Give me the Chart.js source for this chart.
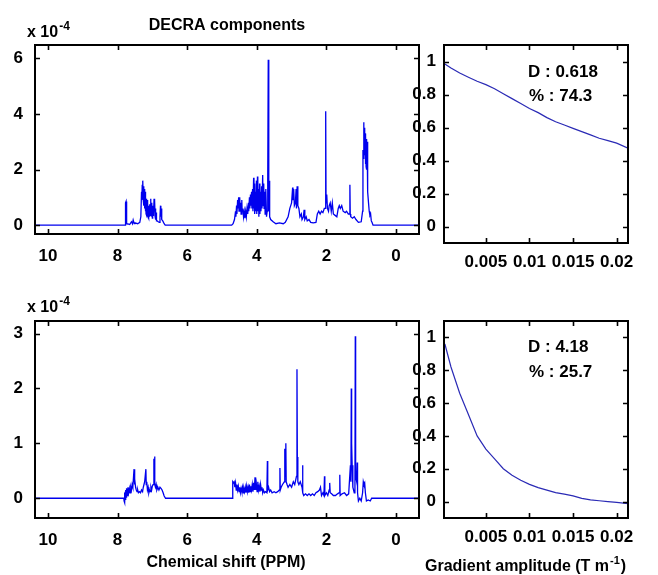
<!DOCTYPE html>
<html><head><meta charset="utf-8">
<script src="https://cdn.jsdelivr.net/npm/chart.js@4/dist/chart.umd.min.js"></script>
<style>
html,body{margin:0;padding:0;background:#fff;}
#wrap{position:relative;width:658px;height:575px;overflow:hidden;background:#fff;}
canvas{position:absolute;left:0;top:0;pointer-events:none;}
</style></head><body><div id="wrap">
<canvas id="c1" width="658" height="575"></canvas>
<canvas id="c2" width="658" height="575"></canvas>
<canvas id="c3" width="658" height="575"></canvas>
<canvas id="c4" width="658" height="575"></canvas>
</div>
<script>
// ---------- DATA ----------
const shiftTicks = [10, 8, 6, 4, 2, 0];
const gradTicks = [0.005, 0.01, 0.015, 0.02];
const topIntensityTicks = [0, 2, 4, 6];
const bottomIntensityTicks = [0, 1, 2, 3];
const decayTicks = [0, 0.2, 0.4, 0.6, 0.8, 1];

// component 1 spectrum: [chemical shift (ppm), intensity (x 10^-4)]
const topSpectrum = [[10.37,0],[7.79,0],[7.78,0],[7.77,0.8],[7.755,0.85],[7.745,0.1],[7.74,0.75],[7.73,0.05],[7.70,0.04],[7.65,0.02],[7.60,0.12],[7.57,0.05],[7.55,0.18],[7.52,0.05],[7.50,0.08],[7.42,0.05],[7.36,0.1],[7.33,0.3],
[7.31,1.2],[7.30,0.9],[7.29,1.45],[7.28,1.0],[7.27,1.6],[7.26,0.9],[7.25,1.4],[7.24,0.7],[7.23,1.3],[7.22,0.6],[7.21,1.2],[7.20,0.5],[7.19,1.0],[7.18,0.4],[7.17,0.95],[7.16,0.35],[7.15,0.9],[7.14,0.3],[7.13,0.8],[7.12,0.3],[7.11,0.7],[7.10,0.25],[7.09,0.65],[7.08,0.3],[7.07,0.75],[7.06,0.35],[7.05,0.95],[7.04,0.4],[7.03,0.8],[7.02,0.3],[7.01,0.6],[7.00,0.25],[6.99,0.7],[6.98,0.35],[6.97,0.6],[6.96,0.4],[6.95,0.95],[6.94,0.5],[6.93,0.9],[6.92,0.3],[6.91,0.6],[6.90,0.2],[6.89,0.45],[6.88,0.15],[6.86,0.15],[6.83,0.12],[6.80,0.1],[6.78,0.3],[6.765,0.7],[6.755,0.3],[6.745,0.6],[6.73,0.2],[6.70,0.15],[6.66,0.05],[6.63,0],
[4.72,0],[4.68,0.05],[4.64,0.2],[4.61,0.5],[4.60,0.3],[4.58,0.7],[4.57,0.4],[4.55,0.9],[4.54,0.6],[4.52,1.0],[4.51,0.5],[4.49,1.0],[4.48,0.6],[4.46,0.8],[4.45,0.4],[4.43,0.9],[4.42,0.5],[4.40,0.6],[4.38,0.3],[4.36,0.5],[4.34,0.25],[4.32,0.5],[4.30,0.3],[4.28,0.6],[4.26,0.4],[4.24,0.8],[4.23,0.5],[4.21,1.0],[4.20,0.6],[4.18,1.1],[4.17,0.7],[4.15,1.2],[4.14,0.6],[4.12,1.3],[4.11,0.5],[4.09,1.7],[4.08,0.6],[4.07,1.5],[4.06,0.4],[4.04,1.2],[4.03,0.5],[4.01,1.6],[4.00,0.4],[3.98,1.75],[3.97,0.5],[3.95,1.3],[3.94,0.3],[3.92,1.5],[3.91,0.4],[3.89,1.2],[3.88,0.5],[3.86,1.4],[3.85,0.6],[3.83,1.8],[3.82,0.7],[3.80,1.5],[3.79,0.6],[3.77,1.2],[3.76,0.4],[3.74,1.3],[3.72,0.3],[3.70,0.5],[3.685,1.6],[3.67,5.95],[3.655,0.5],[3.645,1.6],[3.63,0.3],[3.60,0.2],[3.53,0.12],[3.45,0.05],[3.35,0.08],[3.24,0.05],[3.18,0.1],[3.10,0.3],[3.05,0.6],[3.00,0.8],[2.97,1.35],[2.96,0.9],[2.94,1.3],[2.92,0.7],[2.89,0.8],[2.87,1.3],[2.86,0.6],[2.84,1.4],[2.82,0.7],[2.79,0.6],[2.76,0.3],[2.72,0.4],[2.70,0.2],[2.66,0.3],[2.64,0.55],[2.62,0.2],[2.58,0.3],[2.55,0.15],[2.50,0.2],[2.45,0.1],[2.38,0.08],[2.30,0.1],[2.26,0.4],[2.22,0.5],[2.18,0.4],[2.14,0.5],[2.10,0.45],[2.06,0.6],[2.03,0.6],[2.02,4.1],[2.01,0.8],[1.99,1.1],[1.97,0.6],[1.94,0.5],[1.92,0.7],[1.89,0.8],[1.86,0.5],[1.83,0.8],[1.80,0.4],[1.75,0.35],[1.70,0.3],[1.66,0.6],[1.63,0.7],[1.60,0.6],[1.56,0.7],[1.52,0.5],[1.46,0.45],[1.42,0.5],[1.37,0.4],[1.33,0.4],[1.325,1.45],[1.315,0.4],[1.30,0.3],[1.25,0.25],[1.20,0.3],[1.15,0.2],[1.08,0.1],[1.00,0.12],[0.96,0.5],[0.95,2.7],[0.94,2.4],[0.93,3.7],[0.92,2.6],[0.91,3.5],[0.90,2.5],[0.89,3.3],[0.88,2.2],[0.87,3.2],[0.86,2.1],[0.85,3.1],[0.84,2.0],[0.83,3.0],[0.82,1.6],[0.81,1.2],[0.79,0.8],[0.77,0.5],[0.75,0.35],[0.73,0.4],[0.71,0.15],[0.69,0.1],[0.66,0],[-0.66,0]];

// component 2 spectrum: [chemical shift (ppm), intensity (x 10^-4)]
const bottomSpectrum = [[10.37,0],[7.82,0],[7.81,-0.05],[7.80,0.1],[7.79,-0.08],[7.78,0.12],[7.77,-0.03],[7.76,0.15],[7.75,0.02],[7.74,0.18],[7.72,0.05],[7.70,0.2],[7.68,0.1],[7.66,0.18],[7.64,0.1],[7.62,0.2],[7.60,0.15],[7.58,0.25],[7.56,0.2],[7.525,0.53],[7.515,0.25],[7.50,0.35],[7.48,0.2],[7.46,0.15],[7.44,0.12],[7.42,0.15],[7.40,0.1],[7.37,0.12],[7.34,0.1],[7.31,0.15],[7.28,0.12],[7.26,0.2],[7.22,0.3],[7.185,0.53],[7.175,0.25],[7.16,0.3],[7.14,0.15],[7.12,0.2],[7.10,0.1],[7.08,0.15],[7.06,0.12],[7.04,0.2],[7.02,0.15],[7.00,0.22],[6.98,0.25],[6.955,0.72],[6.945,0.4],[6.935,0.76],[6.925,0.25],[6.91,0.2],[6.89,0.25],[6.87,0.15],[6.84,0.2],[6.81,0.15],[6.78,0.2],[6.75,0.18],[6.72,0.15],[6.69,0.1],[6.66,0.04],[6.62,0],
[4.70,0],[4.69,0.3],[4.67,0.28],[4.65,0.3],[4.63,0.2],[4.61,0.28],[4.59,0.15],[4.57,0.25],[4.55,0.15],[4.53,0.22],[4.51,0.12],[4.49,0.2],[4.47,0.1],[4.45,0.18],[4.43,0.12],[4.41,0.2],[4.39,0.1],[4.37,0.18],[4.35,0.12],[4.33,0.2],[4.31,0.1],[4.29,0.22],[4.27,0.12],[4.25,0.2],[4.23,0.1],[4.21,0.25],[4.19,0.12],[4.17,0.22],[4.15,0.15],[4.13,0.25],[4.11,0.12],[4.09,0.28],[4.07,0.15],[4.05,0.38],[4.03,0.15],[4.01,0.25],[3.99,0.12],[3.97,0.3],[3.95,0.15],[3.93,0.22],[3.91,0.12],[3.89,0.25],[3.87,0.15],[3.85,0.2],[3.83,0.1],[3.81,0.15],[3.78,0.1],[3.75,0.12],[3.71,0.1],[3.695,0.68],[3.685,0.15],[3.66,0.2],[3.63,0.12],[3.60,0.15],[3.56,0.1],[3.50,0.12],[3.45,0.1],[3.40,0.12],[3.35,0.15],[3.335,0.55],[3.325,0.15],[3.30,0.2],[3.26,0.25],[3.21,0.3],[3.195,0.9],[3.185,0.4],[3.165,1.0],[3.155,0.3],[3.13,0.25],[3.10,0.2],[3.05,0.25],[3.00,0.2],[2.95,0.3],[2.91,0.25],[2.86,0.4],[2.845,2.35],[2.835,0.75],[2.82,0.3],[2.79,0.25],[2.75,0.3],[2.70,0.2],[2.685,0.6],[2.675,0.1],[2.65,0.05],[2.60,0.08],[2.55,0.05],[2.50,0.08],[2.45,0.05],[2.40,0.08],[2.35,0.05],[2.30,0.1],[2.25,0.12],[2.20,0.15],[2.17,0.2],[2.14,0.05],[2.10,0.1],[2.07,0.05],[2.055,0.4],[2.045,0.05],[2.00,0.1],[1.96,0.05],[1.92,0.15],[1.905,0.28],[1.89,0.1],[1.85,0.08],[1.80,0.05],[1.74,0.05],[1.68,0.08],[1.63,0.1],[1.615,0.43],[1.605,0.05],[1.55,0.08],[1.48,0.1],[1.42,0.05],[1.36,0.08],[1.31,0.6],[1.295,0.3],[1.285,2.0],[1.275,1.0],[1.26,0.6],[1.24,0.2],[1.20,0.1],[1.18,0.15],[1.17,2.95],[1.16,0.4],[1.13,0.3],[1.115,0.65],[1.105,0.1],[1.08,-0.05],[1.04,0.0],[1.00,-0.05],[0.96,0.1],[0.94,0.3],[0.92,0.25],[0.90,0.28],[0.88,0.1],[0.85,-0.05],[0.80,-0.03],[0.74,-0.05],[0.70,0],[-0.66,0]];

// diffusion decays
const gradient = [0.0003,0.001,0.002,0.003,0.004,0.005,0.006,0.007,0.008,0.009,0.010,0.011,0.012,0.013,0.014,0.015,0.016,0.017,0.018,0.019,0.020,0.0213];
const topDecay = [0.985,0.96,0.93,0.905,0.88,0.86,0.835,0.805,0.775,0.745,0.715,0.69,0.66,0.635,0.615,0.595,0.575,0.555,0.535,0.52,0.505,0.475];
const bottomDecay = [0.96,0.82,0.66,0.53,0.40,0.32,0.26,0.20,0.16,0.13,0.105,0.085,0.07,0.055,0.045,0.035,0.02,0.01,0.005,0.0,-0.005,-0.012];

// ---------- DRAWING ----------
const FONT = '"Liberation Sans", Arial, Helvetica, sans-serif';
Chart.defaults.devicePixelRatio = 1;

function drawSup(ctx, x, y, base, sup, size, supSize) {
  ctx.save();
  ctx.fillStyle = '#000';
  ctx.textBaseline = 'alphabetic';
  ctx.textAlign = 'left';
  ctx.font = 'bold ' + size + 'px ' + FONT;
  const w1 = ctx.measureText(base[0]).width;
  ctx.fillText(base[0], x, y);
  ctx.font = 'bold ' + supSize + 'px ' + FONT;
  const w2 = ctx.measureText(sup).width;
  ctx.fillText(sup, x + w1 + 1, y - size * 0.45);
  if (base[1]) {
    ctx.font = 'bold ' + size + 'px ' + FONT;
    ctx.fillText(base[1], x + w1 + w2 + 2, y);
  }
  ctx.restore();
}

function txt(ctx, s, x, y, size, align) {
  ctx.save();
  ctx.fillStyle = '#000';
  ctx.font = 'bold ' + size + 'px ' + FONT;
  ctx.textAlign = align || 'left';
  ctx.textBaseline = 'alphabetic';
  ctx.fillText(s, x, y);
  ctx.restore();
}

function makeChart(id, pts, c) {
  const framePlugin = {
    id: 'frame' + id,
    afterDatasetsDraw(chart) {
      const ctx = chart.ctx, a = chart.chartArea;
      const sx = chart.scales.x, sy = chart.scales.y;
      ctx.save();
      ctx.strokeStyle = '#000';
      ctx.lineWidth = 1.6;
      sx.ticks.forEach(t => {
        const px = Math.round(sx.getPixelForValue(t.value)) + 0.5;
        ctx.beginPath();
        ctx.moveTo(px, a.bottom); ctx.lineTo(px, a.bottom - 5);
        ctx.moveTo(px, a.top); ctx.lineTo(px, a.top + 5);
        ctx.stroke();
      });
      sy.ticks.forEach(t => {
        const py = Math.round(sy.getPixelForValue(t.value)) + 0.5;
        ctx.beginPath();
        ctx.moveTo(a.left, py); ctx.lineTo(a.left + 5, py);
        ctx.moveTo(a.right, py); ctx.lineTo(a.right - 5, py);
        ctx.stroke();
      });
      ctx.lineWidth = 2;
      ctx.strokeRect(a.left, a.top, a.right - a.left, a.bottom - a.top);
      ctx.restore();
      if (c.extra) c.extra(chart.ctx, chart);
    }
  };
  return new Chart(document.getElementById(id), {
    type: 'line',
    data: {datasets: [{data: pts.map(p => ({x: p[0], y: p[1]})), borderColor: c.color, borderWidth: c.lw,
                       pointRadius: 0, tension: 0, fill: false, borderJoinStyle: 'miter'}]},
    options: {
      responsive: false, animation: false, events: [],
      layout: {padding: {left: c.area.l - c.yW, top: c.area.t, right: 658 - c.area.r, bottom: 575 - c.area.b - c.xH}},
      plugins: {legend: {display: false}, tooltip: {enabled: false}, title: {display: false}},
      scales: {
        x: {
          type: 'linear', min: c.xMin, max: c.xMax, reverse: !!c.reverse,
          grid: {display: false, drawTicks: false}, border: {display: false},
          afterBuildTicks: s => { s.ticks = c.xTicks.map(v => ({value: v})); },
          afterFit: s => { s.height = c.xH; s.paddingLeft = 0; s.paddingRight = 0; },
          ticks: {autoSkip: false, maxRotation: 0, minRotation: 0, padding: c.xPad, color: '#000',
                  font: {family: FONT, size: 17, weight: 'bold'}, callback: v => String(v)}
        },
        y: {
          type: 'linear', min: c.yMin, max: c.yMax,
          grid: {display: false, drawTicks: false}, border: {display: false},
          afterBuildTicks: s => { s.ticks = c.yTicks.map(v => ({value: v})); },
          afterFit: s => { s.width = c.yW; s.paddingTop = 0; s.paddingBottom = 0; },
          ticks: {autoSkip: false, padding: c.yPad, color: '#000',
                  font: {family: FONT, size: 17, weight: 'bold'}, callback: v => String(v)}
        }
      }
    },
    plugins: [framePlugin]
  });
}

makeChart('c1', topSpectrum, {
  area: {l: 35, t: 45, r: 419, b: 234}, yW: 35, xH: 30, xPad: 12, yPad: 12,
  xMin: -0.66, xMax: 10.37, reverse: true, yMin: -0.32, yMax: 6.48,
  xTicks: shiftTicks, yTicks: topIntensityTicks, color: '#0000ee', lw: 1.3,
  extra: (ctx) => {
    drawSup(ctx, 27, 37, ['x 10', ''], '-4', 16, 12);
    txt(ctx, 'DECRA components', 227, 30, 16, 'center');
  }
});
makeChart('c2', gradient.map((g, i) => [g, topDecay[i]]), {
  area: {l: 444, t: 45, r: 628, b: 243}, yW: 40, xH: 30, xPad: 9, yPad: 8,
  xMin: 0.0002, xMax: 0.0213, yMin: -0.1, yMax: 1.1,
  xTicks: gradTicks, yTicks: decayTicks, color: '#2a2ab5', lw: 1.2,
  extra: (ctx) => {
    txt(ctx, 'D : 0.618', 528, 77, 17);
    txt(ctx, '% : 74.3', 529, 101, 17);
  }
});
makeChart('c3', bottomSpectrum, {
  area: {l: 35, t: 321, r: 419, b: 518}, yW: 35, xH: 30, xPad: 12, yPad: 12,
  xMin: -0.66, xMax: 10.37, reverse: true, yMin: -0.36, yMax: 3.23,
  xTicks: shiftTicks, yTicks: bottomIntensityTicks, color: '#0000ee', lw: 1.3,
  extra: (ctx) => {
    drawSup(ctx, 27, 312, ['x 10', ''], '-4', 16, 12);
    txt(ctx, 'Chemical shift (PPM)', 226, 567, 16, 'center');
  }
});
makeChart('c4', gradient.map((g, i) => [g, bottomDecay[i]]), {
  area: {l: 444, t: 321, r: 628, b: 518}, yW: 40, xH: 30, xPad: 9, yPad: 8,
  xMin: 0.0002, xMax: 0.0213, yMin: -0.1, yMax: 1.1,
  xTicks: gradTicks, yTicks: decayTicks, color: '#2a2ab5', lw: 1.2,
  extra: (ctx) => {
    txt(ctx, 'D : 4.18', 528, 352, 17);
    txt(ctx, '% : 25.7', 529, 377, 17);
    drawSup(ctx, 425, 571, ['Gradient amplitude (T m', ')'], '-1', 16, 11);
  }
});
</script>
</body></html>
